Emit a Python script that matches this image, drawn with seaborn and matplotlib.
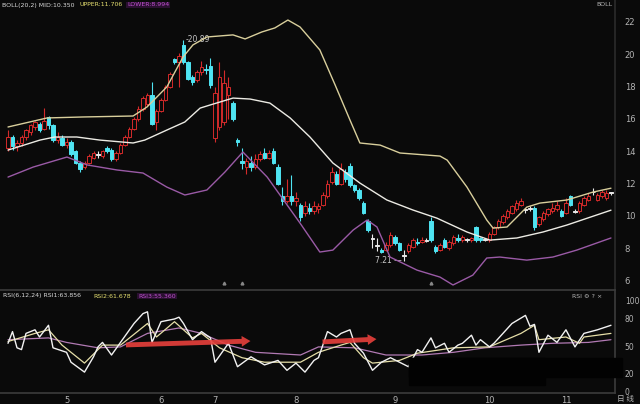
import numpy as np
import pandas as pd
import seaborn as sns
import matplotlib.pyplot as plt
from matplotlib.patches import Rectangle

# daily candles (index = trading day)
opens = [14.2, 14.9, 14.3, 14.5, 14.9, 15.2, 15.5, 15.7, 15.4, 16.1,
         15.6, 14.7, 14.8, 14.4, 14.6, 14.0, 13.3, 13.0, 13.3, 13.6,
         13.8, 13.7, 14.2, 14.1, 13.5, 13.9, 14.4, 14.9, 15.4, 16.0,
         16.6, 16.9, 17.5, 15.8, 16.5, 17.2, 18.0, 19.7, 19.5, 20.6,
         19.5, 18.6, 18.4, 18.9, 19.1, 19.3, 14.8, 15.5, 15.8, 17.5,
         17.0, 14.7, 13.4, 13.0, 13.3, 13.0, 13.5, 13.9, 13.6, 14.0,
         13.0, 11.2, 10.9, 11.2, 10.9, 10.7, 10.2, 10.5, 10.3, 10.4,
         10.7, 11.2, 12.1, 12.6, 12.0, 12.7, 13.1, 11.9, 11.6, 10.8,
         9.7, 8.6, 8.2, 7.9, 7.9, 8.2, 8.7, 8.3, 7.55, 7.8,
         8.1, 8.4, 8.4, 8.5, 9.7, 8.1, 7.9, 8.5, 8.0, 8.3,
         8.6, 8.5, 8.55, 8.5, 9.3, 8.6, 8.55, 8.5, 8.9, 9.3,
         9.6, 9.9, 10.2, 10.4, 10.7, 10.4, 10.5, 10.5, 9.5, 9.8,
         10.1, 10.3, 10.4, 10.3, 10.2, 11.2, 10.3, 10.3, 10.7, 11.0,
         11.5, 11.0, 11.2, 11.1, 11.45]
closes = [14.9, 14.3, 14.5, 14.9, 15.3, 15.6, 15.8, 15.3, 15.9, 15.6,
          14.7, 14.9, 14.4, 14.6, 13.8, 13.3, 12.9, 13.3, 13.7, 13.9,
          13.75, 14.0, 14.0, 13.5, 13.9, 14.4, 14.9, 15.4, 16.0, 16.6,
          17.3, 17.5, 15.7, 16.5, 17.2, 18.0, 18.8, 19.5, 19.9, 19.5,
          18.5, 18.3, 18.9, 19.2, 19.0, 18.1, 17.6, 18.6, 18.2, 18.0,
          16.0, 14.6, 13.3, 13.4, 13.0, 13.5, 13.8, 13.6, 13.9, 13.3,
          12.0, 10.9, 11.2, 10.9, 11.1, 9.9, 10.6, 10.3, 10.6, 10.6,
          11.3, 12.0, 12.7, 12.0, 12.9, 12.3, 11.9, 11.6, 11.1, 10.2,
          9.1, 8.55, 8.15, 7.75, 8.2, 8.8, 8.3, 7.9, 7.5, 8.2,
          8.5, 8.3, 8.5, 8.45, 8.5, 7.8, 8.2, 8.1, 8.4, 8.7,
          8.5, 8.7, 8.5, 8.6, 8.5, 8.5, 8.5, 8.9, 9.3, 9.7,
          10.0, 10.3, 10.6, 10.8, 10.9, 10.35, 10.45, 9.3, 9.9, 10.2,
          10.4, 10.5, 10.7, 10.0, 10.8, 10.7, 10.25, 10.8, 11.1, 11.2,
          11.45, 11.3, 11.5, 11.4, 11.4]
highs = [15.3, 15.0, 14.7, 15.0, 15.4, 15.7, 15.9, 15.8, 16.7, 16.2,
         15.7, 15.2, 15.0, 14.8, 14.7, 14.1, 13.4, 13.4, 13.8, 14.0,
         14.0, 14.1, 14.3, 14.2, 14.0, 14.5, 15.0, 15.5, 16.1, 16.8,
         17.4, 17.6, 18.3, 16.6, 17.3, 18.1, 18.9, 19.8, 20.1, 20.89,
         19.6, 18.7, 19.0, 19.6, 19.4, 19.8, 18.0, 19.5, 19.0, 18.6,
         17.1, 14.8, 14.2, 13.6, 13.7, 13.8, 14.0, 14.2, 14.1, 14.2,
         13.2, 11.8, 12.3, 12.5, 11.5, 10.8, 10.9, 10.8, 10.9, 10.8,
         11.5, 12.2, 13.0, 12.8, 13.3, 12.9, 13.3, 12.0, 11.7, 10.9,
         9.8, 8.9, 8.6, 8.0, 8.4, 9.0, 8.8, 8.4, 7.9, 8.3,
         8.6, 8.6, 8.7, 8.6, 9.9, 8.2, 8.3, 8.6, 8.5, 8.8,
         8.9, 8.8, 8.6, 8.7, 9.4, 8.7, 8.6, 9.0, 9.4, 9.8,
         10.1, 10.4, 10.7, 11.0, 11.1, 10.5, 10.6, 10.6, 10.0, 10.3,
         10.5, 10.8, 10.9, 10.4, 11.1, 11.3, 10.4, 10.9, 11.2, 11.4,
         11.7, 11.4, 11.6, 11.6, 11.5]
lows = [14.0, 14.1, 14.0, 14.3, 14.7, 15.0, 15.3, 15.2, 15.3, 15.4,
        14.6, 14.5, 14.3, 14.2, 13.7, 13.2, 12.7, 12.9, 13.2, 13.5,
        13.6, 13.6, 13.9, 13.4, 13.4, 13.8, 14.3, 14.8, 15.3, 15.9,
        16.5, 16.8, 15.6, 15.3, 16.4, 17.1, 17.9, 19.4, 18.0, 19.4,
        18.4, 18.1, 18.3, 18.7, 18.8, 17.9, 14.6, 15.3, 15.6, 16.0,
        15.9, 14.3, 12.9, 12.6, 12.8, 12.9, 13.4, 13.5, 13.5, 13.2,
        11.9, 10.7, 10.8, 10.7, 10.6, 9.7, 10.0, 10.1, 10.1, 10.2,
        10.6, 11.1, 12.0, 11.9, 11.9, 12.1, 11.8, 11.5, 11.0, 10.1,
        9.0, 8.0, 7.8, 7.7, 7.8, 8.1, 8.2, 7.8, 7.21, 7.7,
        8.0, 8.2, 8.3, 8.4, 8.4, 7.7, 7.8, 8.0, 7.9, 8.2,
        8.4, 8.4, 8.4, 8.4, 8.4, 8.4, 8.45, 8.4, 8.8, 9.2,
        9.5, 9.8, 10.1, 10.3, 10.6, 10.2, 10.3, 9.1, 9.4, 9.7,
        10.0, 10.2, 10.3, 9.9, 10.1, 10.6, 10.2, 10.2, 10.6, 10.9,
        11.3, 10.9, 11.1, 11.0, 11.3]

# Bollinger band (20,2)
upper_days = [0, 8.7, 16.7, 27.8, 30.9, 35.3, 38.9, 41.1, 44.2, 50, 52.7, 56.4, 59.3, 62.2,
              64.9, 69.3, 72.7, 76, 78.2, 82.7, 87.1, 96, 97.6, 102, 106.4, 107.8, 110.9,
              115.3, 118.2, 124.2, 130, 134]
upper_vals = [15.50, 16.06, 16.12, 16.18, 16.74, 17.98, 19.83, 20.58, 21.07, 21.20, 20.95,
              21.38, 21.63, 22.12, 21.69, 20.27, 18.10, 15.93, 14.51, 14.38, 13.89, 13.70,
              13.45, 11.78, 9.74, 9.24, 9.31, 10.54, 10.79, 10.98, 11.47, 11.71]
mid_days = [0, 7.1, 10.4, 15.3, 20.4, 27.8, 30.4, 35.3, 39.3, 42.7, 44.9, 50, 53.8, 58.2,
            62.7, 67.1, 72.2, 78.2, 84.2, 90, 95.3, 102, 107.1, 113.1, 118.9, 124.2, 134]
mid_vals = [14.07, 14.69, 14.88, 14.88, 14.69, 14.51, 14.69, 15.31, 15.81, 16.67, 16.86,
            17.29, 17.23, 16.98, 16.06, 14.88, 13.27, 12.03, 10.98, 10.36, 9.86, 9.00,
            8.50, 8.63, 9.00, 9.43, 10.35]
lower_days = [0, 5.6, 13.1, 17.6, 24.2, 30, 35.3, 39.3, 44.2, 48.2, 52.2, 57.6, 64.9, 69.3,
              72.2, 76.7, 79.8, 82, 84.9, 90.9, 96, 98.9, 103.3, 106.4, 109.3, 115.3,
              121.1, 126.4, 134]
lower_vals = [12.40, 13.02, 13.64, 13.15, 12.84, 12.65, 11.78, 11.29, 11.60, 12.71, 13.95,
              12.40, 9.55, 7.76, 7.88, 9.12, 9.74, 9.31, 7.45, 6.64, 6.21, 5.72, 6.33,
              7.39, 7.45, 7.26, 7.45, 7.88, 8.63]

# RSI(6,12,24)
rsi1_days = [0, 1, 2, 3, 4, 6, 7, 9, 10, 13, 14, 17, 19, 20, 21, 23, 25, 28, 30, 31, 32,
             34, 37, 38, 39, 41, 43, 45, 46, 49, 51, 54, 57, 60, 62, 64, 66, 68, 69, 71,
             73, 74, 76, 77, 79, 81, 83, 85, 87, 89, 91, 92, 94, 95, 97, 98, 100, 101,
             103, 104, 105, 107, 108, 110, 112, 115, 116, 117, 118, 120, 122, 124, 126,
             128, 131, 134]
rsi1_vals = [53, 66, 48, 46, 64, 68, 60, 73, 48, 43, 32, 21, 38, 49, 54, 40, 54, 75, 86, 88,
             54, 77, 80, 82, 75, 57, 66, 59, 32, 53, 27, 38, 29, 34, 23, 31, 21, 34, 37,
             66, 60, 64, 68, 53, 42, 23, 32, 37, 32, 27, 46, 43, 59, 48, 53, 43, 51, 53,
             62, 51, 57, 49, 53, 64, 75, 84, 72, 74, 43, 62, 54, 68, 49, 64, 68, 73]
rsi2_days = [0, 6, 9, 12, 17, 21, 25, 31, 33, 37, 41, 43, 47, 52, 57, 65, 69, 74, 76, 79,
             81, 87, 91, 99, 107, 114, 117, 118, 124, 127, 128, 134]
rsi2_vals = [55, 64, 68, 51, 31, 51, 51, 75, 60, 77, 59, 64, 48, 37, 32, 32, 43, 51, 54, 37,
             31, 34, 42, 48, 49, 64, 73, 57, 60, 53, 60, 64]
rsi3_days = [0, 9, 13, 20, 25, 31, 38, 43, 49, 55, 65, 69, 77, 84, 92, 99, 106, 114, 121,
             129, 134]
rsi3_vals = [57, 59, 54, 48, 49, 64, 70, 64, 51, 43, 40, 49, 48, 40, 40, 43, 48, 51, 53, 54, 57]

price_ticks = [6, 8, 10, 12, 14, 16, 18, 20, 22]
rsi_ticks = [0, 20, 50, 80, 100]
month_days = [13, 34, 46, 64, 86, 107, 124]
month_labels = ['5', '6', '7', '8', '9', '10', '11']

# hand-drawn red arrows on the RSI pane: (start day, start rsi, end day, end rsi)
arrows = [(25.6, 51.1, 54.5, 55.6), (69.3, 54.4, 82.5, 57.8)]

sns.set_theme(style="dark")
plt.rcParams['font.family'] = ['DejaVu Sans']
BG = '#0a0a0a'
TXT = '#b4b4b4'

fig = plt.figure(figsize=(6.4, 4.04), dpi=100, facecolor=BG)
W, H = 640, 404
ax = fig.add_axes([0, 1 - 290 / H, 615 / W, 290 / H], facecolor=BG)
ax2 = fig.add_axes([0, 1 - 393 / H, 615 / W, 103 / H], facecolor=BG)

df = pd.DataFrame({'open': opens, 'close': closes, 'high': highs, 'low': lows})
df['day'] = np.arange(len(df))
body = (df['close'] - df['open']).abs()
colors = np.where(body <= 0.06, '#e8e8e8',
                  np.where(df['close'] > df['open'], '#d42a2a', '#4fe4f2'))

ax.vlines(df['day'], df['low'], df['high'], colors=colors, lw=0.8, zorder=2)
bottoms = df[['open', 'close']].min(axis=1)
heights = np.maximum(body, 0.05)
faces = np.where(df['close'] > df['open'], BG, colors)
faces = np.where(body <= 0.06, '#e8e8e8', faces)
ax.bar(df['day'], heights, bottom=bottoms, width=0.72, color=faces,
       edgecolor=colors, linewidth=0.7, zorder=3)

sns.lineplot(x=upper_days, y=upper_vals, ax=ax, color='#d9cf9c', lw=1.0, estimator=None, zorder=4)
sns.lineplot(x=mid_days, y=mid_vals, ax=ax, color='#ecebe4', lw=1.0, estimator=None, zorder=4)
sns.lineplot(x=lower_days, y=lower_vals, ax=ax, color='#9a5aa6', lw=1.0, estimator=None, zorder=4)

ax.text(39.5, 20.89, '-20.89', color='#c8c8c8', fontsize=5.5, va='center', ha='left')
ax.text(87.4, 7.21, '7.21 \u2014', color='#c8c8c8', fontsize=5.5, va='center', ha='right')
ax.plot([48, 52, 94], [5.85, 5.85, 5.85], ls='none', marker='^', ms=2, color='#888888')

ax.set_xlim(-1.78, 134.9)
ax.set_ylim(5.41, 23.36)
ax.yaxis.tick_right()
ax.set_yticks(price_ticks)
ax.set_xticks([])
ax.tick_params(axis='y', labelsize=6, colors=TXT, length=0, pad=7)
ax.grid(False)
for s in ['left', 'top', 'bottom']:
    ax.spines[s].set_visible(False)
ax.spines['right'].set_color('#2a2a2a')
ax.set_xlabel('')
ax.set_ylabel('')

sns.lineplot(x=rsi3_days, y=rsi3_vals, ax=ax2, color='#b27ab4', lw=0.9, estimator=None)
sns.lineplot(x=rsi2_days, y=rsi2_vals, ax=ax2, color='#e6dfa8', lw=0.9, estimator=None)
sns.lineplot(x=rsi1_days, y=rsi1_vals, ax=ax2, color='#f2f2f2', lw=1.0, estimator=None)

for x0, y0, x1, y1 in arrows:
    ax2.annotate('', xy=(x1, y1), xytext=(x0, y0),
                 arrowprops=dict(arrowstyle='simple,head_length=0.9,head_width=1.1,tail_width=0.5',
                                 color='#e8403c', alpha=0.9, lw=0, mutation_scale=7))

ax2.set_xlim(-1.78, 134.9)
ax2.set_ylim(-2.2, 112.2)
ax2.yaxis.tick_right()
ax2.set_yticks(rsi_ticks)
ax2.set_xticks(month_days)
ax2.set_xticklabels(month_labels)
ax2.tick_params(axis='y', labelsize=5.5, colors=TXT, length=0, pad=7)
ax2.tick_params(axis='x', labelsize=6, colors=TXT, length=0, pad=2)
ax2.grid(False)
ax2.spines['left'].set_visible(False)
for s in ['top', 'bottom', 'right']:
    ax2.spines[s].set_color('#3a3a3a')
ax2.set_xlabel('')
ax2.set_ylabel('')


def px(x, y):
    return x / W, 1 - y / H


fs = 4.5
fig.text(*px(2, 5), 'BOLL(20,2) MID:10.350', color='#d8d8d8', fontsize=fs, va='center')
fig.text(*px(80, 5), 'UPPER:11.706', color='#e6e070', fontsize=fs, va='center')
fig.text(*px(127, 5), 'LOWER:8.994', color='#c050d0', fontsize=fs, va='center',
         bbox=dict(boxstyle='square,pad=0.15', fc='#2a1030', ec='none'))
fig.text(*px(596, 5), 'BOLL', color=TXT, fontsize=fs, va='center')

fig.text(*px(3, 296), 'RSI(6,12,24) RSI1:63.856', color='#d8d8d8', fontsize=fs, va='center')
fig.text(*px(93, 296), 'RSI2:61.678', color='#e6e070', fontsize=fs, va='center')
fig.text(*px(138, 296), 'RSI3:55.360', color='#c050d0', fontsize=fs, va='center',
         bbox=dict(boxstyle='square,pad=0.15', fc='#2a1030', ec='none'))
fig.text(*px(572, 296), 'RSI \u2699 ? \u00d7', color=TXT, fontsize=fs, va='center')
fig.text(*px(617, 399.5), '日 线', color=TXT, fontsize=5.5, va='center',
         family=['Noto Sans CJK SC', 'DejaVu Sans'])

# black box covering part of the RSI pane in the original screenshot
fig.add_artist(Rectangle(px(409, 377), 213 / W, 19 / H, transform=fig.transFigure,
                         color='#020202', zorder=5))
fig.add_artist(Rectangle(px(409, 385), 136 / W, 27 / H, transform=fig.transFigure,
                         color='#020202', zorder=5))

fig.savefig('out.png', dpi=100, facecolor=BG)
